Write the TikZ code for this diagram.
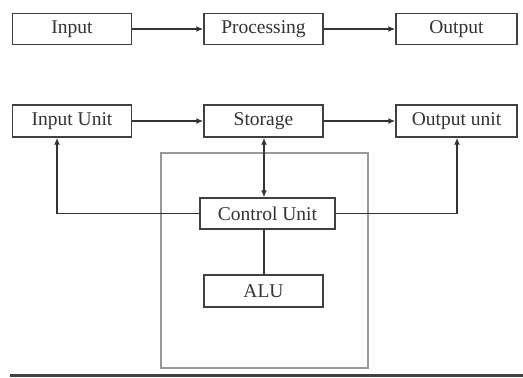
\documentclass[tikz,border=0pt]{standalone}
\usepackage{fontspec}
\setmainfont{Liberation Serif}
\usetikzlibrary{arrows.meta}
\begin{document}
\begin{tikzpicture}[x=1pt,y=-1pt,
  unitbox/.style={draw=black!75, line width=1.4pt, fill=white, inner sep=0pt,
    font=\fontsize{19.5}{21}\selectfont, text=black!80},
  link/.style={draw=black!80, line width=1.5pt},
  arr/.style={link, -{Latex[length=7pt,width=6pt]}},
  biarr/.style={link, {Latex[length=7pt,width=6pt]}-{Latex[length=7pt,width=6pt]}}]
\useasboundingbox (0,0) rectangle (523,378);

% enclosing frame of the processor
\draw[draw=black!40, line width=1.6pt] (161,153) rectangle (368,368);

% upper flow: input -> processing -> output
\node[unitbox, minimum width=119pt, minimum height=31pt] (in) at (72,29) {Input};
\node[unitbox, minimum width=119pt, minimum height=31pt] (proc) at (263.5,29) {Processing};
\node[unitbox, minimum width=121pt, minimum height=31pt] (out) at (456.5,29) {Output};
\draw[arr] (in) -- (proc);
\draw[arr] (proc) -- (out);

% lower diagram: computer organisation
\node[unitbox, minimum width=119pt, minimum height=32pt] (inu) at (72,121) {Input Unit};
\node[unitbox, minimum width=119pt, minimum height=32pt] (sto) at (263.5,121) {Storage};
\node[unitbox, minimum width=121pt, minimum height=32pt] (outu) at (456.5,121) {Output unit};
\node[unitbox, minimum width=135pt, minimum height=31pt] (cu) at (267.5,213.5) {Control Unit};
\node[unitbox, minimum width=119pt, minimum height=32pt] (alu) at (263.5,291) {ALU};

\coordinate (lc) at (57,213.5);
\coordinate (rc) at (457,213.5);

\draw[arr] (inu) -- (sto);
\draw[arr] (sto) -- (outu);
\draw[biarr] (sto.south -| 264,0) -- (cu.north -| 264,0);
\draw[link] (cu.south -| 264,0) -- (alu.north -| 264,0);
\draw[arr] (cu.west) -- (lc) -- (inu.south -| lc);
\draw[arr] (cu.east) -- (rc) -- (outu.south -| rc);

% base rule
\draw[draw=black!75, line width=3pt] (10,375.5) -- (523,375.5);
\end{tikzpicture}
\end{document}
